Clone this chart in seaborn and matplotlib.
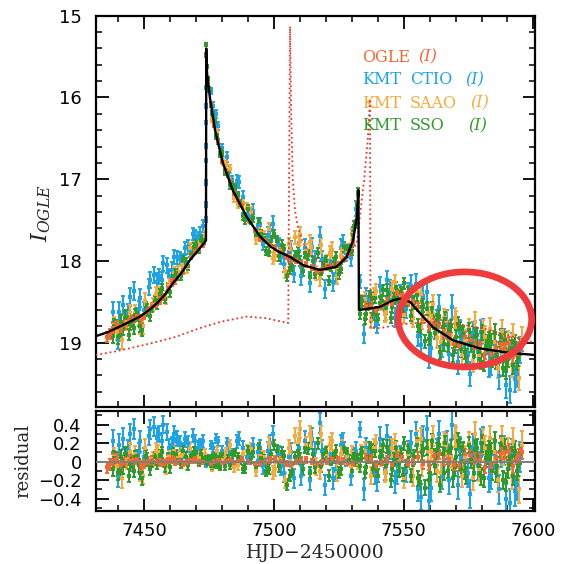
import numpy as np
import matplotlib
matplotlib.use("Agg")
import matplotlib.pyplot as plt
import seaborn as sns
from matplotlib.patches import Ellipse
from matplotlib.ticker import MultipleLocator, FuncFormatter

# ---------------- best-fit model light curve (I mag) ----------------
model_t = [7431.3, 7436.0, 7440.0, 7444.0, 7448.3, 7451.5, 7454.8, 7458.0, 7461.1, 7464.5,
           7467.6, 7470.5, 7473.8, 7473.9, 7474.2, 7475.3, 7477.3, 7480.3, 7484.2, 7489.5,
           7494.6, 7498.5, 7502.0, 7506.2, 7511.2, 7517.7, 7524.2, 7528.0, 7530.5, 7531.9,
           7532.55, 7532.75, 7537.0, 7540.9, 7545.9, 7548.6, 7552.5, 7556.3, 7561.3, 7569.0,
           7579.4, 7589.8, 7600.6]
model_mag = [18.92, 18.87, 18.81, 18.75, 18.68, 18.61, 18.52, 18.41, 18.27, 18.14,
             17.99, 17.88, 17.75, 15.40, 15.70, 16.00, 16.40, 16.80, 17.14, 17.46,
             17.70, 17.82, 17.89, 17.95, 18.05, 18.11, 18.07, 17.95, 17.75, 17.46,
             17.13, 18.60, 18.58, 18.56, 18.48, 18.46, 18.50, 18.64, 18.81, 18.97,
             19.07, 19.12, 19.15]

# ---------------- alternative model (dotted) ----------------
alt_t = [7431.3, 7440.0, 7452.2, 7462.0, 7471.5, 7480.0, 7489.5, 7497.0, 7505.5, 7506.2,
         7506.6, 7507.2, 7508.1, 7509.3, 7511.2, 7515.0, 7518.9, 7522.7, 7528.0, 7531.9,
         7533.3, 7534.8, 7536.2, 7537.0, 7537.2, 7541.0, 7548.0, 7554.0, 7560.0, 7567.0,
         7573.0, 7580.0, 7587.0, 7595.0, 7600.6]
alt_mag = [19.15, 19.10, 19.01, 18.93, 18.82, 18.74, 18.68, 18.70, 18.76, 15.13,
           16.15, 16.97, 17.38, 17.60, 17.78, 17.95, 18.03, 18.08, 17.99, 17.78,
           17.40, 17.00, 16.50, 16.02, 18.82, 18.82, 18.78, 18.76, 18.75, 18.76,
           18.78, 18.82, 18.88, 18.95, 19.00]

# ---------------- OGLE (I) ----------------
ogle_t = [7435.6, 7436.7, 7439.4, 7442.6, 7445.5, 7448.7, 7451.6, 7454.5, 7457.7, 7460.6,
          7463.5, 7466.6, 7469.7, 7472.5, 7475.6, 7478.5, 7481.6, 7484.5, 7487.6, 7490.5,
          7494.6, 7498.5, 7502.6, 7506.5, 7510.6, 7514.5, 7518.6, 7522.5, 7526.6, 7530.4,
          7535.6, 7539.5, 7543.6, 7547.5, 7551.6, 7555.5, 7559.6, 7563.5, 7567.6, 7571.5,
          7575.6, 7579.5, 7583.6, 7587.5, 7590.6, 7593.5, 7595.6,
          7438.0, 7441.0, 7444.0, 7447.1, 7450.1, 7453.0, 7456.1, 7459.1, 7462.0, 7465.1,
          7468.1, 7471.0, 7477.0, 7480.1, 7483.0, 7486.1, 7492.5, 7496.5, 7500.5, 7504.5,
          7508.5, 7512.5, 7516.5, 7520.5, 7524.5, 7528.5, 7537.5, 7541.5, 7545.5, 7549.5,
          7553.5, 7557.5, 7561.5, 7565.5, 7569.5, 7573.5, 7577.5, 7581.5, 7585.5, 7589.0,
          7592.0, 7594.5]
ogle_res = [-0.06, -0.03, 0.03, -0.01, 0.02, -0.04, 0.01, 0.00, -0.02, 0.03,
            0.01, -0.01, 0.02, 0.00, -0.02, 0.02, 0.01, -0.01, 0.03, 0.00,
            -0.02, 0.02, 0.01, -0.03, 0.02, 0.00, -0.01, 0.03, 0.01, -0.02,
            0.04, -0.03, 0.02, 0.06, -0.02, 0.05, -0.04, 0.08, 0.03, -0.05,
            0.07, 0.02, -0.06, 0.09, 0.12, 0.04, 0.10,
            0.02, -0.04, 0.01, 0.03, -0.02, 0.02, -0.01, 0.03, 0.00, -0.02,
            0.02, 0.01, 0.00, -0.01, 0.02, 0.01, -0.02, 0.01, 0.03, -0.02,
            0.00, 0.02, -0.03, 0.01, 0.02, -0.01, 0.03, 0.00, -0.04, 0.05,
            0.02, -0.03, 0.06, 0.01, -0.04, 0.08, 0.03, -0.06, 0.05, 0.10,
            -0.05, 0.07]
ogle_err = [0.06, 0.06, 0.05, 0.05, 0.05, 0.05, 0.04, 0.04, 0.04, 0.04,
            0.03, 0.03, 0.03, 0.03, 0.02, 0.02, 0.02, 0.02, 0.02, 0.02,
            0.03, 0.03, 0.03, 0.03, 0.03, 0.03, 0.03, 0.03, 0.03, 0.03,
            0.04, 0.04, 0.04, 0.04, 0.04, 0.05, 0.05, 0.05, 0.05, 0.05,
            0.06, 0.06, 0.06, 0.06, 0.07, 0.07, 0.07,
            0.06, 0.05, 0.05, 0.05, 0.05, 0.04, 0.04, 0.04, 0.04, 0.03,
            0.03, 0.03, 0.02, 0.02, 0.02, 0.02, 0.02, 0.03, 0.03, 0.03,
            0.03, 0.03, 0.03, 0.03, 0.03, 0.03, 0.04, 0.04, 0.04, 0.04,
            0.04, 0.05, 0.05, 0.05, 0.05, 0.06, 0.06, 0.06, 0.06, 0.07,
            0.07, 0.07]

# ---------------- KMT CTIO (I) ----------------
ctio_t = [7437.8, 7439.9, 7441.8, 7443.7, 7445.9, 7447.8, 7449.8, 7451.9, 7453.7, 7455.8,
          7456.9, 7458.8, 7460.7, 7462.8, 7464.9, 7466.8, 7468.7, 7470.8, 7472.7, 7473.81,
          7473.82, 7473.83, 7473.84, 7473.85, 7473.86, 7473.87, 7473.88, 7475.8, 7477.7, 7479.8,
          7481.8, 7483.7, 7485.8, 7487.9, 7489.7, 7491.8, 7493.7, 7495.8, 7497.8, 7499.7,
          7501.8, 7503.7, 7505.8, 7507.7, 7509.8, 7511.8, 7513.7, 7515.8, 7517.7, 7519.8,
          7521.7, 7523.8, 7525.7, 7527.8, 7529.7, 7531.8, 7533.1, 7534.8, 7536.7, 7538.8,
          7540.7, 7542.8, 7544.7, 7546.8, 7548.7, 7550.8, 7552.7, 7554.8, 7556.7, 7558.8,
          7560.7, 7562.8, 7564.7, 7566.8, 7568.7, 7570.8, 7572.7, 7574.8, 7576.7, 7578.8,
          7580.7, 7582.8, 7584.7, 7586.8, 7588.7, 7590.8, 7592.7, 7594.8,
          7440.4, 7444.4, 7448.4, 7452.4, 7455.0, 7457.4, 7459.6, 7461.6, 7463.6, 7465.6,
          7467.6, 7469.6, 7471.6, 7476.6, 7478.6, 7482.6, 7486.6, 7490.6, 7494.6, 7498.6,
          7502.6, 7506.6, 7510.6, 7514.6, 7518.6, 7522.6, 7526.6, 7530.6, 7535.6, 7539.6,
          7543.6, 7547.6, 7551.6, 7555.6, 7557.6, 7559.6, 7563.6, 7567.6, 7571.6, 7575.6,
          7579.6, 7583.6, 7587.6, 7589.6, 7591.6, 7593.6]
ctio_res = [0.22, -0.15, 0.25, 0.12, 0.35, 0.10, 0.05, 0.28, 0.38, 0.30,
            0.22, 0.32, 0.18, 0.25, 0.12, 0.20, 0.28, 0.15, 0.22, 0.02,
            -0.03, 0.01, 0.04, -0.02, 0.03, 0.00, -0.01, 0.18, 0.25, 0.12,
            0.20, 0.08, 0.22, 0.15, 0.05, 0.18, 0.10, -0.05, 0.12, 0.30,
            0.08, -0.12, 0.05, -0.18, 0.15, 0.22, -0.20, 0.10, 0.42, -0.25,
            0.08, -0.10, 0.18, 0.05, -0.15, 0.12, 0.35, -0.30, 0.10, -0.12,
            0.25, -0.08, 0.15, -0.22, 0.05, -0.10, 0.20, 0.30, -0.38, 0.35,
            -0.28, 0.10, -0.15, 0.18, 0.40, -0.25, 0.05, -0.12, 0.15, -0.05,
            0.22, -0.18, 0.08, -0.30, 0.12, -0.45, -0.32, 0.05,
            0.18, 0.30, 0.22, 0.35, 0.26, 0.40, 0.15, 0.30, 0.20, 0.24,
            0.12, 0.22, 0.18, 0.15, 0.22, 0.10, 0.25, 0.05, 0.15, 0.20,
            -0.05, 0.10, -0.15, 0.25, 0.12, -0.18, 0.20, 0.05, 0.15, -0.20,
            0.28, -0.12, 0.10, -0.30, 0.25, -0.42, 0.30, -0.20, 0.12, -0.35,
            0.20, -0.15, 0.10, -0.40, 0.08, -0.25]
ctio_err = [0.12, 0.12, 0.11, 0.11, 0.11, 0.10, 0.10, 0.10, 0.10, 0.09,
            0.09, 0.09, 0.09, 0.08, 0.08, 0.08, 0.07, 0.07, 0.07, 0.03,
            0.03, 0.03, 0.02, 0.02, 0.02, 0.02, 0.02, 0.04, 0.05, 0.05,
            0.06, 0.06, 0.07, 0.07, 0.07, 0.08, 0.08, 0.08, 0.09, 0.09,
            0.09, 0.10, 0.10, 0.10, 0.10, 0.11, 0.11, 0.11, 0.11, 0.11,
            0.11, 0.11, 0.11, 0.10, 0.10, 0.09, 0.08, 0.11, 0.11, 0.12,
            0.12, 0.12, 0.12, 0.12, 0.12, 0.12, 0.13, 0.13, 0.14, 0.14,
            0.14, 0.14, 0.14, 0.15, 0.15, 0.15, 0.15, 0.15, 0.15, 0.15,
            0.15, 0.15, 0.16, 0.16, 0.16, 0.16, 0.16, 0.16,
            0.12, 0.11, 0.11, 0.10, 0.10, 0.09, 0.09, 0.09, 0.08, 0.08,
            0.08, 0.07, 0.07, 0.05, 0.05, 0.06, 0.07, 0.07, 0.08, 0.09,
            0.09, 0.10, 0.10, 0.11, 0.11, 0.11, 0.11, 0.10, 0.11, 0.12,
            0.12, 0.12, 0.12, 0.13, 0.14, 0.14, 0.14, 0.15, 0.15, 0.15,
            0.15, 0.15, 0.16, 0.16, 0.16, 0.16]

# ---------------- KMT SAAO (I) ----------------
saao_t = [7438.3, 7441.3, 7443.2, 7446.3, 7448.2, 7450.3, 7453.2, 7455.3, 7458.2, 7461.3,
          7463.2, 7466.3, 7469.2, 7471.3, 7473.3, 7476.3, 7478.2, 7480.3, 7483.2, 7486.3,
          7488.2, 7491.3, 7493.2, 7496.3, 7498.2, 7500.3, 7502.2, 7504.3, 7506.2, 7508.3,
          7510.2, 7512.3, 7514.2, 7516.3, 7518.2, 7520.3, 7522.2, 7524.3, 7526.2, 7528.3,
          7530.2, 7532.3, 7535.2, 7537.3, 7539.2, 7541.3, 7543.2, 7545.3, 7548.2, 7550.3,
          7552.2, 7555.3, 7557.2, 7559.3, 7561.2, 7564.3, 7566.2, 7568.3, 7570.2, 7572.3,
          7575.2, 7577.3, 7579.2, 7581.3, 7583.2, 7586.3, 7588.2, 7590.3, 7592.2, 7594.3,
          7439.7, 7444.7, 7449.7, 7454.7, 7459.7, 7464.7, 7467.7, 7474.7, 7481.7, 7484.7,
          7489.7, 7494.7, 7499.7, 7505.7, 7509.7, 7513.7, 7517.7, 7521.7, 7525.7, 7529.7,
          7533.7, 7538.7, 7542.7, 7546.7, 7551.7, 7553.7, 7556.7, 7560.7, 7562.7, 7565.7,
          7569.7, 7573.7, 7576.7, 7580.7, 7584.7, 7587.7, 7591.7, 7595.7]
saao_res = [0.05, -0.18, 0.02, 0.08, -0.12, 0.15, 0.03, 0.10, -0.05, 0.12,
            0.06, -0.02, 0.10, 0.04, 0.08, -0.06, 0.12, 0.02, 0.18, -0.04,
            0.08, 0.14, -0.10, 0.05, 0.20, -0.08, 0.02, -0.20, 0.10, 0.28,
            0.35, 0.18, 0.25, -0.05, 0.30, 0.08, 0.22, -0.12, 0.15, 0.05,
            0.10, -0.02, 0.12, -0.15, 0.20, 0.05, -0.10, 0.15, 0.02, -0.18,
            0.10, 0.22, -0.05, 0.12, 0.28, -0.12, 0.18, 0.05, 0.25, -0.15,
            0.20, 0.30, -0.08, 0.15, 0.26, -0.20, 0.10, 0.12, 0.22, -0.30,
            -0.05, 0.10, -0.15, 0.12, 0.05, 0.08, 0.14, 0.02, 0.10, -0.06,
            0.12, 0.06, -0.12, 0.15, 0.22, 0.30, -0.10, 0.18, 0.08, -0.05,
            0.10, 0.15, -0.12, 0.20, 0.08, -0.15, 0.25, 0.12, -0.10, 0.20,
            0.28, 0.05, -0.18, 0.22, 0.10, 0.25, -0.15, 0.18]
saao_err = [0.10, 0.10, 0.10, 0.09, 0.09, 0.09, 0.08, 0.08, 0.08, 0.07,
            0.07, 0.07, 0.06, 0.06, 0.06, 0.04, 0.04, 0.05, 0.05, 0.05,
            0.06, 0.06, 0.06, 0.07, 0.07, 0.07, 0.08, 0.08, 0.08, 0.08,
            0.09, 0.09, 0.09, 0.09, 0.09, 0.09, 0.09, 0.09, 0.08, 0.08,
            0.07, 0.06, 0.09, 0.09, 0.09, 0.10, 0.10, 0.10, 0.10, 0.10,
            0.10, 0.11, 0.11, 0.11, 0.11, 0.12, 0.12, 0.12, 0.12, 0.12,
            0.12, 0.13, 0.13, 0.13, 0.13, 0.13, 0.14, 0.14, 0.14, 0.15,
            0.10, 0.10, 0.09, 0.08, 0.08, 0.07, 0.06, 0.03, 0.05, 0.05,
            0.06, 0.06, 0.07, 0.08, 0.09, 0.09, 0.09, 0.09, 0.09, 0.08,
            0.08, 0.09, 0.10, 0.10, 0.10, 0.11, 0.11, 0.11, 0.12, 0.12,
            0.12, 0.12, 0.13, 0.13, 0.13, 0.14, 0.14, 0.15]

# ---------------- KMT SSO (I) ----------------
sso_t = [7438.0, 7439.1, 7440.0, 7441.1, 7442.0, 7443.1, 7444.0, 7445.1, 7446.0, 7447.1,
         7448.0, 7449.1, 7451.0, 7452.1, 7454.0, 7455.1, 7457.0, 7459.1, 7460.0, 7462.1,
         7463.0, 7465.1, 7467.0, 7468.1, 7470.0, 7471.1, 7472.0, 7473.1, 7473.9, 7474.0,
         7474.1, 7475.1, 7476.0, 7477.1, 7478.0, 7479.1, 7480.0, 7482.1, 7483.0, 7485.1,
         7486.0, 7488.1, 7490.0, 7491.1, 7493.0, 7494.1, 7496.0, 7497.1, 7499.0, 7500.1,
         7502.0, 7503.1, 7505.0, 7506.1, 7508.0, 7509.1, 7511.0, 7512.1, 7514.0, 7515.1,
         7517.0, 7518.1, 7520.0, 7521.1, 7523.0, 7524.1, 7526.0, 7527.1, 7529.0, 7530.1,
         7531.0, 7532.1, 7532.45, 7533.0, 7534.1, 7535.0, 7536.1, 7537.0, 7538.1, 7539.0,
         7540.1, 7541.0, 7542.1, 7543.0, 7544.1, 7545.0, 7546.1, 7547.0, 7548.1, 7549.0,
         7550.1, 7551.0, 7552.1, 7553.0, 7554.1, 7555.0, 7556.1, 7557.0, 7558.1, 7559.0,
         7560.1, 7561.0, 7562.1, 7563.0, 7564.1, 7565.0, 7566.1, 7567.0, 7568.1, 7569.0,
         7570.1, 7571.0, 7572.1, 7573.0, 7574.1, 7575.0, 7576.1, 7577.0, 7578.1, 7579.0,
         7580.1, 7581.0, 7582.1, 7583.0, 7584.1, 7585.0, 7586.1, 7587.0, 7588.1, 7589.0,
         7590.1, 7591.0, 7592.1, 7593.0, 7594.1, 7595.0,
         7438.5, 7440.5, 7442.5, 7444.5, 7446.5, 7448.5, 7450.5, 7453.0, 7456.0, 7458.0,
         7461.0, 7464.0, 7466.0, 7469.0, 7472.5, 7474.5, 7475.6, 7476.6, 7477.6, 7478.6,
         7479.6, 7481.0, 7484.0, 7487.0, 7489.0, 7492.0, 7495.0, 7498.0, 7501.0, 7504.0,
         7507.0, 7510.0, 7513.0, 7516.0, 7519.0, 7522.0, 7525.0, 7528.0, 7530.6, 7531.5,
         7533.5, 7535.6, 7537.6, 7539.6, 7541.6, 7543.6, 7545.6, 7547.6, 7549.6, 7551.6,
         7553.6, 7555.6, 7557.6, 7559.6, 7561.6, 7563.6, 7565.6, 7567.6, 7569.6, 7571.6,
         7573.6, 7575.6, 7577.6, 7579.6, 7581.6, 7583.6, 7585.6, 7587.6, 7589.6, 7591.6,
         7593.6]
sso_res = [-0.08, 0.02, -0.12, 0.05, -0.05, 0.08, -0.15, 0.00, -0.10, 0.06,
           -0.04, -0.18, 0.02, -0.08, 0.05, -0.02, 0.10, 0.03, -0.06, 0.08,
           0.02, 0.12, -0.04, 0.06, 0.10, 0.00, 0.08, 0.04, 0.05, 0.02,
           -0.02, 0.04, -0.05, 0.06, 0.02, -0.06, 0.08, 0.03, -0.04, 0.10,
           0.05, -0.08, 0.12, 0.04, -0.06, 0.15, 0.02, -0.10, 0.08, 0.18,
           -0.05, 0.10, -0.25, -0.15, 0.05, 0.12, -0.08, 0.15, -0.12, 0.08,
           0.20, -0.05, 0.10, -0.15, 0.05, 0.12, -0.08, 0.15, 0.02, -0.10,
           0.08, 0.04, 0.03, -0.05, 0.10, -0.12, 0.05, 0.15, -0.08, 0.12,
           -0.15, 0.05, 0.18, -0.05, 0.10, -0.20, 0.02, 0.15, -0.10, 0.08,
           0.20, -0.05, 0.12, -0.15, 0.05, 0.18, -0.22, 0.10, -0.28, 0.15,
           -0.12, 0.22, -0.05, 0.12, -0.25, 0.08, 0.20, -0.10, 0.15, -0.18,
           0.05, 0.22, -0.08, 0.12, -0.15, 0.18, 0.02, -0.12, 0.15, -0.05,
           0.20, -0.18, 0.08, 0.12, -0.10, 0.22, -0.05, 0.10, -0.20, 0.15,
           -0.08, 0.05, -0.15, 0.12, -0.05, 0.08,
           0.04, -0.10, 0.08, -0.03, 0.05, -0.12, 0.06, 0.00, 0.07, -0.05,
           0.09, -0.02, 0.05, 0.11, 0.03, 0.01, -0.03, 0.05, -0.04, 0.03,
           0.06, -0.05, 0.08, 0.02, -0.07, 0.10, 0.04, -0.08, 0.12, 0.06,
           -0.10, 0.03, 0.14, -0.06, 0.08, 0.02, -0.12, 0.10, 0.05, 0.00,
           0.08, -0.06, 0.12, -0.10, 0.06, 0.16, -0.08, 0.04, -0.14, 0.10,
           0.02, -0.18, 0.14, -0.20, 0.06, 0.18, -0.12, 0.10, -0.06, 0.16,
           -0.10, 0.08, 0.14, -0.16, 0.04, 0.10, -0.12, 0.18, -0.22, 0.06,
           -0.10]
sso_err = [0.08, 0.08, 0.08, 0.08, 0.08, 0.08, 0.07, 0.07, 0.07, 0.07,
           0.07, 0.07, 0.07, 0.06, 0.06, 0.06, 0.06, 0.06, 0.06, 0.05,
           0.05, 0.05, 0.05, 0.05, 0.05, 0.05, 0.05, 0.05, 0.02, 0.02,
           0.02, 0.03, 0.03, 0.03, 0.03, 0.03, 0.04, 0.04, 0.04, 0.04,
           0.04, 0.04, 0.05, 0.05, 0.05, 0.05, 0.05, 0.05, 0.05, 0.05,
           0.06, 0.06, 0.06, 0.06, 0.06, 0.06, 0.06, 0.06, 0.06, 0.06,
           0.06, 0.06, 0.06, 0.06, 0.06, 0.06, 0.06, 0.06, 0.05, 0.05,
           0.05, 0.04, 0.04, 0.06, 0.06, 0.06, 0.06, 0.06, 0.07, 0.07,
           0.07, 0.07, 0.07, 0.07, 0.07, 0.07, 0.07, 0.07, 0.07, 0.07,
           0.07, 0.07, 0.07, 0.07, 0.08, 0.08, 0.08, 0.08, 0.08, 0.08,
           0.08, 0.08, 0.08, 0.08, 0.08, 0.08, 0.08, 0.08, 0.08, 0.09,
           0.09, 0.09, 0.09, 0.09, 0.09, 0.09, 0.09, 0.09, 0.09, 0.09,
           0.09, 0.09, 0.10, 0.10, 0.10, 0.10, 0.10, 0.10, 0.10, 0.10,
           0.10, 0.10, 0.10, 0.10, 0.10, 0.10,
           0.08, 0.08, 0.08, 0.07, 0.07, 0.07, 0.07, 0.06, 0.06, 0.06,
           0.06, 0.05, 0.05, 0.05, 0.05, 0.02, 0.03, 0.03, 0.03, 0.03,
           0.03, 0.04, 0.04, 0.04, 0.05, 0.05, 0.05, 0.05, 0.06, 0.06,
           0.06, 0.06, 0.06, 0.06, 0.06, 0.06, 0.06, 0.05, 0.05, 0.05,
           0.06, 0.06, 0.07, 0.07, 0.07, 0.07, 0.07, 0.07, 0.07, 0.07,
           0.07, 0.08, 0.08, 0.08, 0.08, 0.08, 0.08, 0.08, 0.09, 0.09,
           0.09, 0.09, 0.09, 0.09, 0.10, 0.10, 0.10, 0.10, 0.10, 0.10,
           0.10]

series = [
    ("KMT CTIO", ctio_t, ctio_res, ctio_err, "#1ea3e6"),
    ("KMT SAAO", saao_t, saao_res, saao_err, "#f6aa3c"),
    ("KMT SSO", sso_t, sso_res, sso_err, "#2f9a2c"),
    ("OGLE", ogle_t, ogle_res, ogle_err, "#ee6a35"),
]

# ---------------- style ----------------
sns.set_theme(style="ticks")
plt.rcParams.update({
    "font.family": ["DejaVu Sans"],
    "mathtext.fontset": "dejavuserif",
    "axes.linewidth": 1.5,
    "axes.edgecolor": "black",
    "xtick.direction": "in", "ytick.direction": "in",
    "xtick.top": True, "ytick.right": True,
    "xtick.major.size": 9, "ytick.major.size": 9,
    "xtick.minor.size": 4.5, "ytick.minor.size": 4.5,
    "xtick.major.width": 1.3, "ytick.major.width": 1.3,
    "xtick.minor.width": 1.1, "ytick.minor.width": 1.1,
    "xtick.color": "black", "ytick.color": "black",
    "xtick.labelsize": 13, "ytick.labelsize": 13,
})

W, H = 562, 564
fig = plt.figure(figsize=(W / 100, H / 100), dpi=100)
ax = fig.add_axes([95.7 / W, 1 - 407 / H, (535 - 95.7) / W, (407 - 15.7) / H])
axr = fig.add_axes([95.7 / W, 1 - 511 / H, (535 - 95.7) / W, (511 - 411) / H])

xlim = (7431.3, 7600.6)

for name, t, res, err, col in series:
    t = np.asarray(t)
    res = np.asarray(res)
    err = np.asarray(err)
    mag = np.interp(t, model_t, model_mag) - res
    for a, yv in ((ax, mag), (axr, res)):
        a.errorbar(t, yv, yerr=err, fmt="none", ecolor=col, elinewidth=1.5,
                   capsize=1.7, capthick=1.4, zorder=2)
        sns.scatterplot(x=t, y=yv, ax=a, color=col, marker="s", s=10,
                        linewidth=0, zorder=3, legend=False)

sns.lineplot(x=alt_t, y=alt_mag, ax=ax, color="#e8372c", lw=1.3,
             linestyle=(0, (1, 1.6)), sort=False, estimator=None, zorder=4)
sns.lineplot(x=model_t, y=model_mag, ax=ax, color="black", lw=1.7,
             sort=False, estimator=None, zorder=5)

ax.add_patch(Ellipse((7573.6, 18.715), width=51.4, height=1.163, fill=False,
                     ec="#ef3b3b", lw=4.8, zorder=6, clip_on=False))

axr.axhline(0, color="#7f7f7f", lw=1.4, zorder=4)

# ---------------- axes ----------------
ax.set_xlim(*xlim)
ax.set_ylim(19.786, 15.0)
axr.set_xlim(*xlim)
axr.set_ylim(-0.533, 0.548)

for a in (ax, axr):
    a.xaxis.set_major_locator(MultipleLocator(50))
    a.xaxis.set_minor_locator(MultipleLocator(10))
    a.tick_params(which="both", direction="in", top=True, right=True)
    a.tick_params(axis="y", which="major", pad=10)
    a.tick_params(axis="x", which="major", pad=8)
    a.set_xlabel("")
    a.set_ylabel("")
    for s in a.spines.values():
        s.set_linewidth(1.6)

ax.yaxis.set_major_locator(MultipleLocator(1))
ax.yaxis.set_minor_locator(MultipleLocator(0.2))
ax.tick_params(axis="x", labelbottom=False)
ax.yaxis.set_major_formatter(FuncFormatter(lambda v, p: f"{v:.0f}"))

axr.yaxis.set_major_locator(MultipleLocator(0.2))
axr.yaxis.set_minor_locator(MultipleLocator(0.1))
axr.yaxis.set_major_formatter(FuncFormatter(
    lambda v, p: "0" if abs(v) < 1e-9 else f"{v:.1f}".replace("-", "\u2212")))

# axis titles
fig.text(41 / W, 1 - 213 / H, r"$I_{OGLE}$", fontsize=16, rotation=90,
         ha="center", va="center")
fig.text(23.5 / W, 1 - 461 / H, "residual", family="DejaVu Serif", fontsize=13,
         rotation=90, ha="center", va="center")
fig.text(315 / W, 1 - 553 / H, "HJD\u22122450000", family="DejaVu Serif",
         fontsize=13.5, ha="center", va="center")

# data-set labels
rows = [("OGLE", None, 418.3, "#ee6a35", 57.3),
        ("KMT", "CTIO", 465.0, "#1ea3e6", 80.0),
        ("KMT", "SAAO", 470.0, "#f6aa3c", 103.3),
        ("KMT", "SSO", 468.3, "#2f9a2c", 126.0)]
for first, second, xi, col, yy in rows:
    fig.text(361.7 / W, 1 - yy / H, first, color=col, family="DejaVu Serif",
             fontsize=11.5, ha="left", va="center")
    if second:
        fig.text(410 / W, 1 - yy / H, second, color=col, family="DejaVu Serif",
                 fontsize=11.5, ha="left", va="center")
    fig.text(xi / W, 1 - yy / H, "(I)", color=col, family="DejaVu Serif",
             style="italic", fontsize=11.5, ha="left", va="center")

fig.savefig("out.png", dpi=100)
